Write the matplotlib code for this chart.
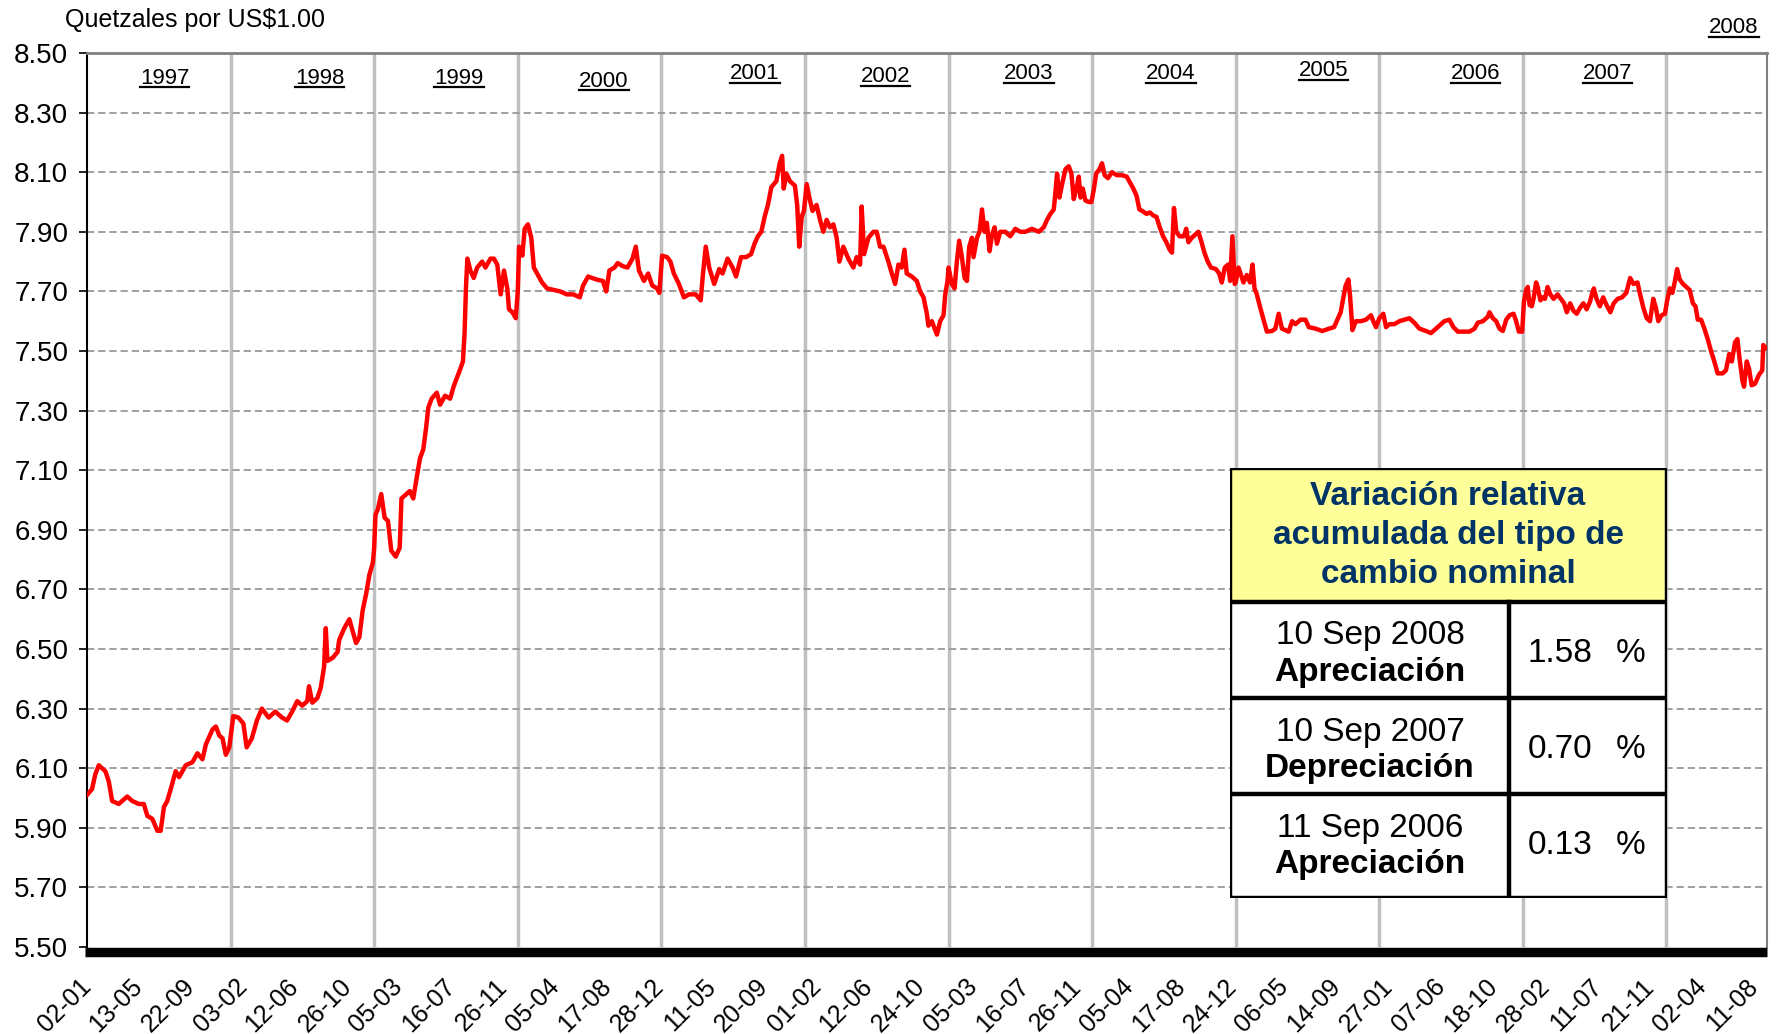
import matplotlib
matplotlib.use('Agg')
import matplotlib.pyplot as plt
import matplotlib.transforms as mtransforms
from matplotlib.patches import Rectangle
from matplotlib.lines import Line2D
import pandas as pd

plt.rcParams['font.family'] = ['Liberation Sans', 'DejaVu Sans']

# tipo de cambio: fecha en años decimales y quetzales por US$1.00
anio = [
    1997.000, 1997.035, 1997.058, 1997.082, 1997.128, 1997.152, 1997.175, 1997.221, 1997.245, 1997.280,
    1997.315, 1997.361, 1997.396, 1997.420, 1997.455, 1997.490, 1997.513, 1997.536, 1997.559, 1997.583,
    1997.618, 1997.641, 1997.688, 1997.734, 1997.769, 1997.804, 1997.828, 1997.874, 1997.897, 1997.921,
    1997.944, 1997.967, 1997.991,
    1998.019, 1998.054, 1998.089, 1998.112, 1998.148, 1998.183, 1998.218, 1998.265, 1998.311, 1998.358,
    1998.393, 1998.429, 1998.464, 1998.499, 1998.534, 1998.546, 1998.569, 1998.604, 1998.628, 1998.651,
    1998.663, 1998.674, 1998.710, 1998.745, 1998.756, 1998.792, 1998.827, 1998.850, 1998.874, 1998.897,
    1998.920, 1998.944, 1998.967, 1998.991,
    1999.000, 1999.009, 1999.026, 1999.049, 1999.073, 1999.096, 1999.119, 1999.150, 1999.178, 1999.190,
    1999.225, 1999.248, 1999.272, 1999.295, 1999.319, 1999.342, 1999.361, 1999.377, 1999.400, 1999.436,
    1999.459, 1999.494, 1999.529, 1999.553, 1999.576, 1999.600, 1999.618, 1999.630, 1999.639, 1999.649,
    1999.670, 1999.693, 1999.717, 1999.752, 1999.775, 1999.810, 1999.834, 1999.857, 1999.881, 1999.904,
    1999.927, 1999.939, 1999.963, 1999.986,
    2000.000, 2000.009, 2000.032, 2000.048, 2000.071, 2000.094, 2000.112, 2000.135, 2000.169, 2000.204,
    2000.249, 2000.295, 2000.341, 2000.387, 2000.432, 2000.455, 2000.490, 2000.547, 2000.593, 2000.616,
    2000.638, 2000.673, 2000.696, 2000.730, 2000.764, 2000.799, 2000.822, 2000.844, 2000.879, 2000.908,
    2000.936, 2000.970, 2000.986,
    2001.005, 2001.040, 2001.063, 2001.087, 2001.122, 2001.157, 2001.192, 2001.239, 2001.274, 2001.290,
    2001.309, 2001.333, 2001.368, 2001.403, 2001.426, 2001.461, 2001.496, 2001.520, 2001.555, 2001.590,
    2001.625, 2001.649, 2001.672, 2001.696, 2001.719, 2001.742, 2001.766, 2001.801, 2001.824, 2001.841,
    2001.852, 2001.871, 2001.895, 2001.930, 2001.946, 2001.960, 2001.977, 2001.993,
    2002.012, 2002.035, 2002.053, 2002.081, 2002.105, 2002.128, 2002.151, 2002.174, 2002.198, 2002.221,
    2002.240, 2002.267, 2002.302, 2002.337, 2002.360, 2002.384, 2002.395, 2002.412, 2002.442, 2002.477,
    2002.500, 2002.523, 2002.547, 2002.581, 2002.605, 2002.628, 2002.651, 2002.674, 2002.693, 2002.709,
    2002.744, 2002.779, 2002.802, 2002.826, 2002.849, 2002.860, 2002.884, 2002.919, 2002.942, 2002.965,
    2002.977, 2002.993,
    2003.000, 2003.023, 2003.042, 2003.058, 2003.074, 2003.093, 2003.112, 2003.128, 2003.144, 2003.163,
    2003.174, 2003.198, 2003.216, 2003.233, 2003.251, 2003.267, 2003.286, 2003.302, 2003.321, 2003.337,
    2003.360, 2003.395, 2003.430, 2003.465, 2003.500, 2003.535, 2003.581, 2003.628, 2003.663, 2003.686,
    2003.709, 2003.733, 2003.744, 2003.756, 2003.772, 2003.791, 2003.814, 2003.837, 2003.856, 2003.872,
    2003.891, 2003.907, 2003.919, 2003.935, 2003.953, 2003.977, 2003.995,
    2004.011, 2004.028, 2004.051, 2004.069, 2004.087, 2004.110, 2004.138, 2004.172, 2004.207, 2004.241,
    2004.264, 2004.287, 2004.310, 2004.329, 2004.349, 2004.379, 2004.402, 2004.425, 2004.448, 2004.471,
    2004.494, 2004.517, 2004.540, 2004.556, 2004.570, 2004.586, 2004.609, 2004.639, 2004.655, 2004.671,
    2004.694, 2004.717, 2004.740, 2004.759, 2004.782, 2004.805, 2004.828, 2004.862, 2004.885, 2004.903,
    2004.924, 2004.947, 2004.961, 2004.977, 2004.993,
    2005.000, 2005.019, 2005.037, 2005.054, 2005.077, 2005.100, 2005.117, 2005.131, 2005.147, 2005.171,
    2005.194, 2005.217, 2005.252, 2005.276, 2005.299, 2005.322, 2005.346, 2005.369, 2005.393, 2005.416,
    2005.451, 2005.486, 2005.509, 2005.556, 2005.603, 2005.650, 2005.685, 2005.708, 2005.731, 2005.750,
    2005.766, 2005.785, 2005.797, 2005.813, 2005.836, 2005.871, 2005.907, 2005.942, 2005.958, 2005.977,
    2006.000, 2006.028, 2006.047, 2006.070, 2006.105, 2006.140, 2006.174, 2006.209, 2006.244, 2006.279,
    2006.326, 2006.360, 2006.395, 2006.430, 2006.453, 2006.488, 2006.516, 2006.547, 2006.581, 2006.628,
    2006.663, 2006.686, 2006.721, 2006.756, 2006.767, 2006.791, 2006.814, 2006.837, 2006.860, 2006.884,
    2006.907, 2006.935, 2006.953, 2006.972, 2006.995,
    2007.007, 2007.023, 2007.034, 2007.046, 2007.062, 2007.076, 2007.092, 2007.103, 2007.122, 2007.138,
    2007.154, 2007.172, 2007.191, 2007.214, 2007.241, 2007.264, 2007.287, 2007.306, 2007.329, 2007.352,
    2007.375, 2007.398, 2007.421, 2007.444, 2007.467, 2007.483, 2007.494, 2007.513, 2007.536, 2007.559,
    2007.582, 2007.609, 2007.632, 2007.660, 2007.690, 2007.720, 2007.747, 2007.770, 2007.798, 2007.816,
    2007.839, 2007.862, 2007.885, 2007.908, 2007.926, 2007.943, 2007.966, 2007.989,
    2008.005, 2008.023, 2008.041, 2008.057, 2008.074, 2008.092, 2008.115, 2008.138, 2008.161, 2008.184,
    2008.202, 2008.218, 2008.241, 2008.264, 2008.287, 2008.310, 2008.333, 2008.356, 2008.391, 2008.414,
    2008.437, 2008.455, 2008.478, 2008.494, 2008.510, 2008.529, 2008.540, 2008.559, 2008.575, 2008.593,
    2008.616, 2008.644, 2008.667, 2008.674, 2008.690,
]
tipo_cambio = [
    6.01, 6.03, 6.08, 6.11, 6.09, 6.055, 5.99, 5.98, 5.99, 6.005,
    5.99, 5.98, 5.98, 5.94, 5.93, 5.89, 5.89, 5.97, 5.99, 6.03,
    6.09, 6.07, 6.11, 6.12, 6.15, 6.13, 6.18, 6.23, 6.24, 6.21,
    6.20, 6.145, 6.17,
    6.275, 6.27, 6.25, 6.17, 6.20, 6.26, 6.30, 6.27, 6.29, 6.27,
    6.26, 6.29, 6.325, 6.31, 6.325, 6.375, 6.32, 6.335, 6.37, 6.44,
    6.57, 6.46, 6.47, 6.49, 6.53, 6.57, 6.60, 6.56, 6.52, 6.54,
    6.63, 6.685, 6.75, 6.79,
    6.84, 6.95, 6.97, 7.02, 6.94, 6.93, 6.83, 6.81, 6.84, 7.005,
    7.02, 7.03, 7.005, 7.07, 7.14, 7.17, 7.24, 7.31, 7.34, 7.36,
    7.32, 7.35, 7.34, 7.38, 7.41, 7.44, 7.465, 7.565, 7.71, 7.81,
    7.77, 7.745, 7.78, 7.80, 7.78, 7.81, 7.81, 7.79, 7.69, 7.77,
    7.71, 7.64, 7.63, 7.61,
    7.70, 7.85, 7.82, 7.91, 7.925, 7.88, 7.78, 7.76, 7.73, 7.71,
    7.705, 7.70, 7.69, 7.69, 7.68, 7.72, 7.75, 7.74, 7.735, 7.70,
    7.77, 7.78, 7.795, 7.785, 7.78, 7.81, 7.85, 7.77, 7.735, 7.76,
    7.72, 7.71, 7.695,
    7.82, 7.815, 7.80, 7.76, 7.725, 7.68, 7.69, 7.69, 7.67, 7.76,
    7.85, 7.78, 7.725, 7.775, 7.76, 7.81, 7.78, 7.75, 7.815, 7.815,
    7.825, 7.86, 7.885, 7.90, 7.95, 7.99, 8.05, 8.07, 8.13, 8.155,
    8.045, 8.095, 8.07, 8.055, 7.99, 7.85, 7.95, 7.97,
    8.06, 8.005, 7.97, 7.99, 7.94, 7.90, 7.94, 7.915, 7.925, 7.88,
    7.80, 7.85, 7.81, 7.78, 7.815, 7.79, 7.985, 7.825, 7.88, 7.90,
    7.90, 7.85, 7.85, 7.80, 7.76, 7.725, 7.79, 7.78, 7.84, 7.76,
    7.75, 7.735, 7.70, 7.68, 7.625, 7.585, 7.60, 7.555, 7.60, 7.62,
    7.69, 7.735,
    7.78, 7.725, 7.71, 7.80, 7.87, 7.815, 7.745, 7.735, 7.85, 7.88,
    7.815, 7.88, 7.90, 7.975, 7.90, 7.93, 7.835, 7.89, 7.915, 7.86,
    7.90, 7.90, 7.885, 7.91, 7.90, 7.90, 7.91, 7.90, 7.915, 7.94,
    7.96, 7.975, 8.03, 8.095, 8.015, 8.06, 8.11, 8.12, 8.095, 8.01,
    8.045, 8.085, 8.015, 8.045, 8.005, 8.00, 8.00,
    8.04, 8.095, 8.11, 8.13, 8.09, 8.08, 8.10, 8.09, 8.09, 8.085,
    8.065, 8.045, 8.02, 7.975, 7.97, 7.96, 7.965, 7.955, 7.95, 7.915,
    7.885, 7.865, 7.84, 7.83, 7.98, 7.90, 7.885, 7.885, 7.91, 7.865,
    7.88, 7.89, 7.90, 7.87, 7.83, 7.80, 7.78, 7.775, 7.76, 7.73,
    7.78, 7.79, 7.735, 7.885, 7.725,
    7.73, 7.78, 7.755, 7.73, 7.755, 7.73, 7.79, 7.71, 7.69, 7.645,
    7.605, 7.565, 7.567, 7.575, 7.625, 7.575, 7.57, 7.565, 7.60, 7.59,
    7.605, 7.605, 7.58, 7.575, 7.567, 7.575, 7.58, 7.605, 7.63, 7.68,
    7.72, 7.74, 7.68, 7.57, 7.60, 7.60, 7.605, 7.62, 7.60, 7.58,
    7.61, 7.625, 7.58, 7.59, 7.59, 7.60, 7.605, 7.61, 7.595, 7.575,
    7.567, 7.56, 7.575, 7.59, 7.60, 7.605, 7.58, 7.565, 7.565, 7.565,
    7.575, 7.595, 7.60, 7.615, 7.63, 7.61, 7.60, 7.575, 7.567, 7.605,
    7.62, 7.625, 7.60, 7.565, 7.565,
    7.665, 7.705, 7.715, 7.655, 7.65, 7.68, 7.73, 7.715, 7.67, 7.68,
    7.675, 7.715, 7.69, 7.675, 7.69, 7.675, 7.66, 7.63, 7.66, 7.635,
    7.625, 7.645, 7.66, 7.64, 7.665, 7.695, 7.71, 7.675, 7.65, 7.68,
    7.655, 7.63, 7.66, 7.675, 7.68, 7.695, 7.745, 7.725, 7.73, 7.69,
    7.645, 7.61, 7.60, 7.675, 7.645, 7.60, 7.62, 7.625,
    7.67, 7.71, 7.695, 7.73, 7.775, 7.74, 7.725, 7.715, 7.705, 7.66,
    7.65, 7.605, 7.605, 7.575, 7.54, 7.50, 7.465, 7.425, 7.425, 7.435,
    7.49, 7.465, 7.53, 7.54, 7.47, 7.40, 7.38, 7.465, 7.44, 7.385,
    7.39, 7.42, 7.435, 7.52, 7.51,
]

fechas_ticks = [
    '1997-01-02', '1997-05-13', '1997-09-22', '1998-02-03', '1998-06-12', '1998-10-26',
    '1999-03-05', '1999-07-16', '1999-11-26', '2000-04-05', '2000-08-17', '2000-12-28',
    '2001-05-11', '2001-09-20', '2002-02-01', '2002-06-12', '2002-10-24', '2003-03-05',
    '2003-07-16', '2003-11-26', '2004-04-05', '2004-08-17', '2004-12-24', '2005-05-06',
    '2005-09-14', '2006-01-27', '2006-06-07', '2006-10-18', '2007-02-28', '2007-07-11',
    '2007-11-21', '2008-04-02', '2008-08-11',
]

anios = ['1997', '1998', '1999', '2000', '2001', '2002', '2003', '2004', '2005', '2006', '2007', '2008']
anio_x = [1997.54, 1998.62, 1999.59, 2000.60, 2001.65, 2002.56, 2003.56, 2004.55, 2005.61, 2006.67, 2007.59, 2008.47]
anio_y = [8.415, 8.415, 8.415, 8.405, 8.43, 8.42, 8.43, 8.43, 8.44, 8.43, 8.43, 8.585]

tabla_titulo = 'Variación relativa\nacumulada del tipo de\ncambio nominal'
tabla_fechas = ['10 Sep 2008', '10 Sep 2007', '11 Sep 2006']
tabla_tipo = ['Apreciación', 'Depreciación', 'Apreciación']
tabla_valor = ['1.58', '0.70', '0.13']


def a_decimal(s):
    t = pd.Timestamp(s)
    dias = 366 if t.is_leap_year else 365
    return t.year + (t.dayofyear - 1) / dias


W, H = 1776, 1034
fig = plt.figure(figsize=(W / 100, H / 100), dpi=100)
ax = fig.add_axes([87 / W, 1 - 947 / H, 1680 / W, 894 / H])

# lineas de los años y grilla
for a in range(1998, 2009):
    ax.axvline(a, color='#c0c0c0', lw=2.5, zorder=1)
yt = [5.5 + 0.2 * i for i in range(16)]
for v in yt[1:-1]:
    ax.axhline(v, color='#999999', lw=1.3, ls=(0, (4, 2.2)), zorder=1)

ax.plot(anio, tipo_cambio, color='#ff0000', lw=3.2, zorder=3, solid_joinstyle='round')

ax.set_xlim(1997.0, 2008.70)
ax.set_ylim(5.5, 8.5)
ax.set_yticks(yt)
ax.set_yticklabels(['%.2f' % v for v in yt], fontsize=20)
ax.tick_params(axis='y', length=5.5, width=1.2, pad=8)

ax.set_xticks([a_decimal(f) for f in fechas_ticks])
ax.set_xticklabels([f[8:10] + '-' + f[5:7] for f in fechas_ticks], rotation=45,
                   ha='right', va='center', rotation_mode='anchor', fontsize=18)
ax.tick_params(axis='x', length=0, pad=26)

ax.spines['left'].set_color('black')
ax.spines['left'].set_linewidth(1.5)
ax.spines['top'].set_color('#808080')
ax.spines['top'].set_linewidth(2)
ax.spines['right'].set_color('#808080')
ax.spines['right'].set_linewidth(1.5)
ax.spines['bottom'].set_visible(False)

# barra negra gruesa del eje x
tr = mtransforms.offset_copy(ax.transAxes, fig=fig, y=-4.5, units='dots')
ax.plot([-0.001, 1.0], [0, 0], transform=tr, color='black', lw=6.8, clip_on=False,
        solid_capstyle='butt', zorder=5)

fig.text(65 / W, 1 - 20 / H, 'Quetzales por US$1.00', fontsize=18, ha='left', va='center')

etiquetas = []
for t, x, y in zip(anios, anio_x, anio_y):
    etiquetas.append(ax.text(x, y, t, fontsize=16, ha='center', va='center', clip_on=False))

# tabla
tx = fig.add_axes([1230 / W, 1 - 898 / H, 437 / W, 430 / H])
tx.set_xlim(0, 437)
tx.set_ylim(430, 0)
tx.axis('off')
tx.add_patch(Rectangle((0, 0), 437, 430, facecolor='white', edgecolor='none'))
tx.add_patch(Rectangle((0, 0), 437, 134, facecolor='#ffff99', edgecolor='none'))
lk = dict(color='black', lw=3.2, solid_capstyle='projecting')
tx.plot([0, 437, 437, 0, 0], [0, 0, 430, 430, 0], **lk)
for yy in [134, 230, 326]:
    tx.plot([0, 437], [yy, yy], **lk)
tx.plot([279, 279], [134, 430], **lk)
for ln, yy in zip(tabla_titulo.split('\n'), [29, 68, 107]):
    tx.text(218, yy, ln, ha='center', va='center', fontsize=24, fontweight='bold', color='#003366')
for i, (f, tp, v) in enumerate(zip(tabla_fechas, tabla_tipo, tabla_valor)):
    y0 = 134 + 96 * i
    tx.text(140, y0 + 34, f, ha='center', va='center', fontsize=24)
    tx.text(140, y0 + 71, tp, ha='center', va='center', fontsize=24, fontweight='bold')
    tx.text(330, y0 + 52, v, ha='center', va='center', fontsize=24)
    tx.text(401, y0 + 52, '%', ha='center', va='center', fontsize=24)

# subrayado de los años
fig.canvas.draw()
r = fig.canvas.get_renderer()
for t in etiquetas:
    bb = t.get_window_extent(r)
    y = bb.y0 + 1.5
    fig.add_artist(Line2D([bb.x0 / W, bb.x1 / W], [y / H, y / H], color='black', lw=1.6))

fig.savefig('out.png', dpi=100)
